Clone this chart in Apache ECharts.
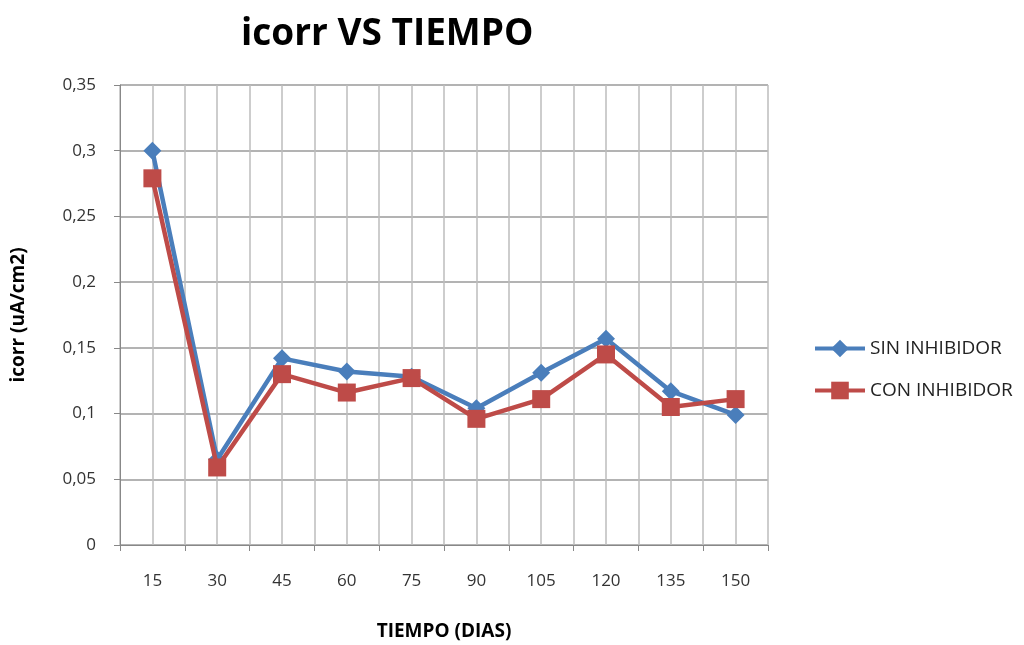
<!DOCTYPE html>
<html lang="es">
<head>
    <meta charset="UTF-8">
    <script src="https://cdn.jsdelivr.net/npm/echarts@6/dist/echarts.min.js"></script>
    <title>icorr VS TIEMPO</title>
    <style>
        html, body { margin: 0; padding: 0; background: #fff; }
    </style>
</head>
<body>
<div id="main" style="width: 1024px;height:645px;"></div>
<script type="text/javascript">
        var dias = ['15', '30', '45', '60', '75', '90', '105', '120', '135', '150'];
        var sinInhibidor = [0.300, 0.065, 0.142, 0.132, 0.128, 0.104, 0.131, 0.157, 0.117, 0.099];
        var conInhibidor = [0.279, 0.059, 0.130, 0.116, 0.127, 0.096, 0.111, 0.145, 0.105, 0.111];

        // rejilla vertical: cada media categoria
        var halfCats = [];
        for (var i = 0; i < dias.length * 2; i++) halfCats.push('');

        var myChart = echarts.init(document.getElementById('main'));
        var fuente = '"Open Sans", sans-serif';

        var option = {
            backgroundColor: '#fff',
            textStyle: { fontFamily: fuente },
            title: {
                text: 'icorr VS TIEMPO',
                left: 236,
                top: 11,
                textStyle: { fontSize: 37, fontWeight: 'bold', color: '#000', fontFamily: fuente }
            },
            legend: {
                orient: 'vertical',
                left: 808,
                top: 334,
                itemWidth: 50,
                itemHeight: 22,
                itemGap: 23,
                lineStyle: { width: 4 },
                textStyle: { fontSize: 19, color: '#222' },
                data: ['SIN INHIBIDOR', 'CON INHIBIDOR']
            },
            grid: { left: 120, right: 256, top: 85, bottom: 100, outerBoundsMode: 'none' },
            xAxis: [{
                type: 'category',
                data: dias,
                name: 'TIEMPO (DIAS)',
                nameLocation: 'middle',
                nameGap: 77,
                nameTextStyle: { fontSize: 19, fontWeight: 'bold', color: '#000' },
                axisLine: { lineStyle: { color: '#888', width: 1 } },
                axisTick: { show: true, length: 6, lineStyle: { color: '#888' } },
                axisLabel: { fontSize: 17, color: '#333', margin: 28 },
                splitLine: { show: false }
            }, {
                type: 'category',
                data: halfCats,
                position: 'bottom',
                axisLine: { show: false },
                axisTick: { show: false },
                axisLabel: { show: false },
                splitLine: { show: true, lineStyle: { color: '#bdbdbd', width: 1.5 } }
            }],
            yAxis: {
                type: 'value',
                min: 0,
                max: 0.35,
                interval: 0.05,
                name: 'icorr (uA/cm2)',
                nameLocation: 'middle',
                nameGap: 92,
                nameRotate: 90,
                nameTextStyle: { fontSize: 19, fontWeight: 'bold', color: '#000' },
                axisLine: { show: true, lineStyle: { color: '#888', width: 1 } },
                axisTick: { show: true, length: 6, inside: false, lineStyle: { color: '#888' } },
                axisLabel: {
                    fontSize: 17,
                    color: '#333',
                    margin: 24,
                    formatter: function (v) {
                        return String(Math.round(v * 100) / 100).replace('.', ',');
                    }
                },
                splitLine: { show: true, lineStyle: { color: '#9a9a9a', width: 1.5 } }
            },
            series: [{
                name: 'SIN INHIBIDOR',
                type: 'line',
                data: sinInhibidor,
                symbol: 'diamond',
                symbolSize: 18,
                itemStyle: { color: '#4A7EBB' },
                lineStyle: { width: 4.5, color: '#4A7EBB' },
                z: 2
            }, {
                name: 'CON INHIBIDOR',
                type: 'line',
                data: conInhibidor,
                symbol: 'rect',
                symbolSize: 18,
                itemStyle: { color: '#BE4B48' },
                lineStyle: { width: 4.5, color: '#BE4B48' },
                z: 3
            }]
        };

        myChart.setOption(option);
    </script>
</body>
</html>
